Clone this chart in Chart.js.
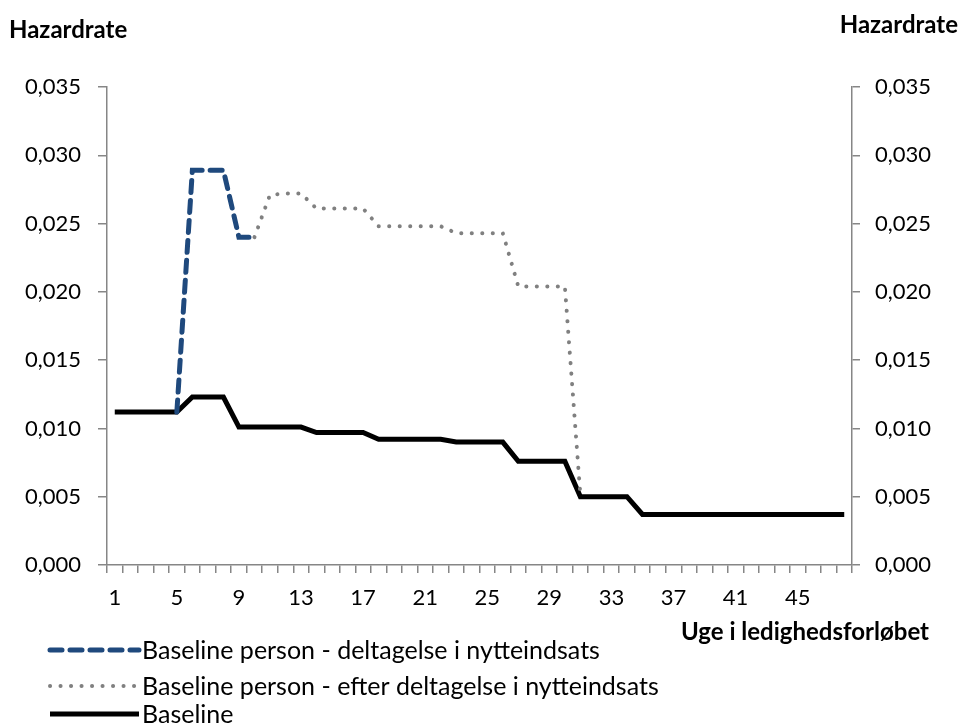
<!DOCTYPE html>
<html lang="da">
<head>
    <meta charset="UTF-8">
    <title>Hazardrate - Uge i ledighedsforløbet</title>
    <script src="https://cdn.jsdelivr.net/npm/chart.js"></script>
    <style>
        html, body { margin: 0; padding: 0; background: #fff; }
        #wrap { width: 963px; height: 724px; }
    </style>
</head>
<body>
    <div id="wrap"><canvas id="hazardChart" width="963" height="724"></canvas></div>

    <script>
        // Uger (kategorier)
        const weeks = ['1','2','3','4','5','6','7','8','9','10','11','12','13','14','15','16',
                       '17','18','19','20','21','22','23','24','25','26','27','28','29','30','31','32',
                       '33','34','35','36','37','38','39','40','41','42','43','44','45','46','47','48'];

        // Baseline person - deltagelse i nytteindsats (uge 5-10)
        const duringValues = [null, null, null, null, 0.0112, 0.0289, 0.0289, 0.0289, 0.0240, 0.0240,
                              null, null, null, null, null, null, null, null, null, null, null, null,
                              null, null, null, null, null, null, null, null, null, null, null, null,
                              null, null, null, null, null, null, null, null, null, null, null, null,
                              null, null];

        // Baseline person - efter deltagelse i nytteindsats (uge 10-31)
        const afterValues = [null, null, null, null, null, null, null, null, null, 0.0240,
                             0.0271, 0.0272, 0.0272, 0.0261, 0.0261, 0.0261, 0.0261,
                             0.0248, 0.0248, 0.0248, 0.0248, 0.0248,
                             0.0243, 0.0243, 0.0243, 0.0243,
                             0.0204, 0.0204, 0.0204, 0.0204, 0.0051,
                             null, null, null, null, null, null, null, null, null, null, null, null,
                             null, null, null, null, null];

        // Baseline
        const baselineValues = [0.0112, 0.0112, 0.0112, 0.0112, 0.0112,
                                0.0123, 0.0123, 0.0123,
                                0.0101, 0.0101, 0.0101, 0.0101, 0.0101,
                                0.0097, 0.0097, 0.0097, 0.0097,
                                0.0092, 0.0092, 0.0092, 0.0092, 0.0092,
                                0.0090, 0.0090, 0.0090, 0.0090,
                                0.0076, 0.0076, 0.0076, 0.0076,
                                0.0050, 0.0050, 0.0050, 0.0050,
                                0.0037, 0.0037, 0.0037, 0.0037, 0.0037, 0.0037, 0.0037,
                                0.0037, 0.0037, 0.0037, 0.0037, 0.0037, 0.0037, 0.0037];

        const yTicks = { min: 0, max: 0.035, step: 0.005 };

        const axisColor = '#868686';
        const tickFont = { family: 'Lato', size: 22 };
        const fmt = v => Number(v).toFixed(3).replace('.', ',');

        // Titler og forklaring tegnes oven på diagrammet
        const extras = {
            id: 'extras',
            afterDraw(chart) {
                const ctx = chart.ctx;
                ctx.save();
                ctx.fillStyle = '#000';
                ctx.textBaseline = 'middle';
                ctx.font = 'bold 24px Lato';
                ctx.textAlign = 'left';
                ctx.fillText('Hazardrate', 9, 30);
                ctx.textAlign = 'right';
                ctx.fillText('Hazardrate', 958, 25);
                ctx.fillText('Uge i ledighedsforløbet', 929, 632);

                // forklaring
                const rows = [650, 686, 714];
                ctx.font = '25px Lato';
                ctx.textAlign = 'left';
                [0, 1, 2].forEach((i, n) => {
                    const ds = chart.data.datasets[i];
                    ctx.save();
                    ctx.strokeStyle = ds.borderColor;
                    ctx.lineWidth = ds.borderWidth;
                    ctx.lineCap = ds.borderCapStyle || 'butt';
                    ctx.setLineDash(ds.borderDash || []);
                    ctx.beginPath();
                    ctx.moveTo(50, rows[n]);
                    ctx.lineTo(139, rows[n]);
                    ctx.stroke();
                    ctx.restore();
                    ctx.fillText(ds.label, 142, rows[n] + 1);
                });
                ctx.restore();
            }
        };

        new Chart(document.getElementById('hazardChart'), {
            type: 'line',
            data: {
                labels: weeks,
                datasets: [
                    {
                        label: 'Baseline person - deltagelse i nytteindsats',
                        data: duringValues,
                        borderColor: '#1F497D',
                        borderWidth: 5,
                        borderDash: [12, 8],
                        borderCapStyle: 'round',
                        order: 2
                    },
                    {
                        label: 'Baseline person - efter deltagelse i nytteindsats',
                        data: afterValues,
                        borderColor: '#808080',
                        borderWidth: 4,
                        borderDash: [0.1, 10.4],
                        borderCapStyle: 'round',
                        order: 1
                    },
                    {
                        label: 'Baseline',
                        data: baselineValues,
                        borderColor: '#000000',
                        borderWidth: 5,
                        order: 3
                    }
                ]
            },
            options: {
                responsive: false,
                animation: false,
                layout: { padding: { top: 87, left: 0, right: 0, bottom: 0 } },
                elements: {
                    point: { radius: 0 },
                    line: { tension: 0, fill: false, borderJoinStyle: 'miter' }
                },
                plugins: { legend: { display: false }, tooltip: { enabled: false } },
                scales: {
                    x: {
                        offset: true,
                        grid: { drawOnChartArea: false, offset: true, tickLength: 8, color: axisColor, lineWidth: 1.5 },
                        border: { color: axisColor, width: 1.5 },
                        ticks: {
                            autoSkip: false, maxRotation: 0, padding: 12, color: '#000', font: tickFont,
                            callback: (v, i) => (i % 4 === 0 ? weeks[i] : '')
                        },
                        afterFit: s => { s.height = 159; }
                    },
                    y: {
                        position: 'left',
                        min: yTicks.min, max: yTicks.max,
                        grid: { drawOnChartArea: false, tickLength: 9, color: axisColor, lineWidth: 1.5 },
                        border: { color: axisColor, width: 1.5 },
                        ticks: { stepSize: yTicks.step, padding: 17, color: '#000', font: tickFont, callback: fmt },
                        afterFit: s => { s.width = 107; }
                    },
                    y2: {
                        position: 'right',
                        min: yTicks.min, max: yTicks.max,
                        grid: { drawOnChartArea: false, tickLength: 8, color: axisColor, lineWidth: 1.5 },
                        border: { color: axisColor, width: 1.5 },
                        ticks: { stepSize: yTicks.step, padding: 15, color: '#000', font: tickFont, callback: fmt },
                        afterFit: s => { s.width = 111; }
                    }
                }
            },
            plugins: [extras]
        });
    </script>
</body>
</html>
